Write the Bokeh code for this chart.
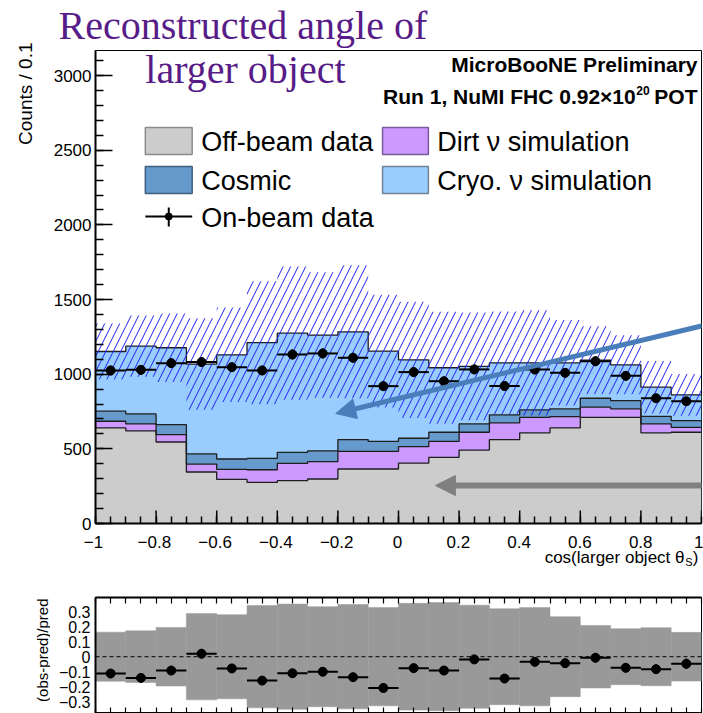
import numpy as np
from bokeh.plotting import figure
from bokeh.layouts import column, row
from bokeh.models import (Range1d, FixedTicker, CustomJSTickFormatter, LinearAxis,
                          Arrow, NormalHead, Span)
from bokeh.core.properties import value
from bokeh.embed import file_html
from bokeh.resources import INLINE

# ---------------- data ----------------
bin_edges = [-1.0, -0.9, -0.8, -0.7, -0.6, -0.5, -0.4, -0.3, -0.2, -0.1, 0.0,
             0.1, 0.2, 0.3, 0.4, 0.5, 0.6, 0.7, 0.8, 0.9, 1.0]
offbeam = [640, 620, 546, 345, 295, 275, 287, 298, 365, 365,
           405, 443, 492, 562, 607, 640, 711, 711, 607, 611]
dirt = [45, 47, 49, 53, 67, 85, 116, 116, 118, 118,
        110, 107, 119, 112, 104, 76, 68, 57, 60, 33]
cosmic = [67, 67, 67, 68, 70, 76, 74, 72, 79, 67,
          56, 61, 56, 53, 50, 52, 60, 55, 51, 45]
cryo = [400, 454, 515, 602, 698, 775, 798, 776, 722, 605,
        525, 432, 385, 349, 315, 308, 255, 240, 195, 173]
onbeam = [1025, 1029, 1074, 1081, 1047, 1025, 1132, 1139, 1110, 920,
          1014, 953, 1032, 921, 1031, 1009, 1087, 989, 839, 819]
syst_frac = [0.163, 0.172, 0.195, 0.287, 0.28, 0.34, 0.35, 0.333, 0.347, 0.327,
             0.355, 0.36, 0.343, 0.319, 0.327, 0.266, 0.208, 0.186, 0.193, 0.162]
ratio = [-0.112, -0.141, -0.092, 0.02, -0.078, -0.159, -0.11, -0.10, -0.136, -0.208,
         -0.076, -0.092, -0.018, -0.145, -0.034, -0.043, -0.007, -0.074, -0.083, -0.047]

x_major = [-1.0, -0.8, -0.6, -0.4, -0.2, 0.0, 0.2, 0.4, 0.6, 0.8, 1.0]
x_tick_labels = ["\u22121", "\u22120.8", "\u22120.6", "\u22120.4", "\u22120.2", "0",
                 "0.2", "0.4", "0.6", "0.8", "1"]
y_major = [0, 500, 1000, 1500, 2000, 2500, 3000]
r_major = [-0.3, -0.2, -0.1, 0.0, 0.1, 0.2, 0.3]

# ---------------- style / geometry ----------------
GRAY = "#cccccc"
PURPLE_FILL = "#cc99ff"
COSMIC = "#6699cc"
CRYO = "#99ccff"
HATCH = "#1f1ff0"
TITLE_PURPLE = "#571c88"
SANS = "Liberation Sans"
SERIF = "Liberation Serif"

W, HTOT = 703, 713
LW = 50                       # left strip width (rotated axis titles)
HH = 48                       # header height
FL, FR, FT, FB = 93, 701, 50, 523
MAIN_BOTTOM = 532             # page y where main panel figure ends
RATIO_TOP_PAGE = 570          # page y where the ratio figure starts
H1 = MAIN_BOTTOM - HH
HX = RATIO_TOP_PAGE - MAIN_BOTTOM
H2 = HTOT - RATIO_TOP_PAGE
Y_MAX = 3168
R_TOP, R_BOT, R_ZERO, R_PX = 597, 712, 655.7, 149.0
R_HI = (R_ZERO - R_TOP) / R_PX
R_LO = -(R_BOT - R_ZERO) / R_PX


def dx(px):
    return -1 + (px - FL) / (FR - FL) * 2


def px_x(x):
    return FL + (x + 1) / 2 * (FR - FL)


def dy(py):
    return Y_MAX * (FB - py) / (FB - FT)


edges = np.array(bin_edges)
left, right = edges[:-1], edges[1:]
centers = 0.5 * (left + right)
t0 = np.array(offbeam, float)
t1 = t0 + np.array(dirt)
t2 = t1 + np.array(cosmic)
t3 = t2 + np.array(cryo)
data = np.array(onbeam, float)
frac = np.array(syst_frac)
rat = np.array(ratio)

x_minor = list(np.round(np.arange(-1.0, 1.0001, 0.05), 3))
y_minor = list(range(0, 3200, 100))

fmt = CustomJSTickFormatter(code="""
const v = Math.round(tick*100)/100;
const s = Math.abs(v).toString();
return (v < 0 ? "\u2212" : "") + s;
""")


def strip(width, height, x0, x1, ytop, ybot):
    """A bare figure whose data coordinates are page pixels."""
    s = figure(width=width, height=height, x_range=Range1d(x0, x1), y_range=Range1d(ybot, ytop),
               output_backend="svg", toolbar_location=None, title=None,
               x_axis_location=None, y_axis_location=None,
               min_border=0, min_border_left=0, min_border_right=0,
               min_border_top=0, min_border_bottom=0)
    s.grid.visible = False
    s.outline_line_color = None
    return s


def txt(fig, x, y, text, size, font=SANS, color="black", align="left", angle=0.0, style="normal"):
    fig.text(x=[x], y=[y], text=[text], text_font=value(font), text_font_size=size,
             text_color=color, text_align=align, text_baseline="middle", angle=angle,
             text_font_style=style)


# ---------------- main panel ----------------
p = figure(width=W - LW, height=H1, x_range=Range1d(-1, 1), y_range=Range1d(0, Y_MAX),
           output_backend="svg", toolbar_location=None, title=None,
           min_border_left=FL - LW, min_border_right=W - FR, min_border_top=FT - HH,
           min_border_bottom=MAIN_BOTTOM - FB)
p.grid.visible = False
p.outline_line_color = "black"
p.outline_line_width = 1

xa = p.xaxis[0]
xa.ticker = FixedTicker(ticks=[], minor_ticks=x_minor)
xa.minor_tick_in, xa.minor_tick_out = 7, 0
xa.major_tick_in, xa.major_tick_out = 0, 0
xa.axis_line_width = 2
xa.minor_tick_line_width = 1.5
xa.major_label_standoff = 0

ya = p.yaxis[0]
ya.ticker = FixedTicker(ticks=y_major, minor_ticks=y_minor)
ya.major_tick_in, ya.major_tick_out = 17, 0
ya.minor_tick_in, ya.minor_tick_out = 8, 0
ya.axis_line_width = 2
ya.major_tick_line_width = 1.5
ya.minor_tick_line_width = 1.5
ya.major_label_text_font = SANS
ya.major_label_text_font_size = "17px"
ya.major_label_text_color = "black"
ya.major_label_standoff = 4

ext = lambda a: list(a) + [a[-1]]
zeros = np.zeros(len(t0))
for lo, hi, col in [(zeros, t0, GRAY), (t0, t1, PURPLE_FILL), (t1, t2, COSMIC), (t2, t3, CRYO)]:
    p.varea_step(x=list(edges), y1=ext(lo), y2=ext(hi), step_mode="after", fill_color=col)

for top in (t0, t1, t2, t3):
    p.step(x=list(edges), y=ext(top), mode="after", line_color="#1e1e1e", line_width=1.3)

p.quad(left=left, right=right, bottom=t3 * (1 - frac), top=t3 * (1 + frac),
       fill_color=None, line_color=None, hatch_pattern="/", hatch_color=HATCH,
       hatch_scale=15, hatch_weight=1.0)

err = np.sqrt(data)
p.segment(x0=left, x1=right, y0=data, y1=data, line_color="black", line_width=2)
p.segment(x0=centers, x1=centers, y0=data - err, y1=data + err, line_color="black", line_width=2)
p.scatter(centers, data, size=9, fill_color="black", line_color="black")

# major x ticks (13 px, pointing into the frame)
p.segment(x0=x_major, x1=x_major, y0=[0] * len(x_major), y1=[dy(FB - 13)] * len(x_major),
          line_color="black", line_width=1.5)

p.add_layout(Arrow(x_start=dx(703), y_start=dy(325), x_end=dx(334), y_end=dy(413),
                   line_color="#4a7ebb", line_width=5,
                   end=NormalHead(size=20, fill_color="#4a7ebb", line_color="#4a7ebb")))
p.add_layout(Arrow(x_start=dx(703), y_start=dy(485), x_end=dx(434), y_end=dy(485),
                   line_color="#808080", line_width=6,
                   end=NormalHead(size=20, fill_color="#808080", line_color="#808080")))

# legend (hand drawn)
leg_boxes = [(143, 190, 127, 154, GRAY, "#8c8c8c", "Off-beam data"),
             (381, 427, 127, 154, PURPLE_FILL, "#7a5a9a", "Dirt \u03bd simulation"),
             (143, 190, 166, 193, COSMIC, "#3f5f7f", "Cosmic"),
             (381, 427, 166, 193, CRYO, "#6f8396", "Cryo. \u03bd simulation")]
for x0, x1, y0, y1, fc, lc, lab in leg_boxes:
    p.quad(left=[dx(x0)], right=[dx(x1)], top=[dy(y0)], bottom=[dy(y1)],
           fill_color=fc, line_color=lc, line_width=1.5)
    txt(p, dx(x1 + 9), dy((y0 + y1) / 2 + 1), lab, "27px")
p.segment(x0=[dx(143)], x1=[dx(190)], y0=[dy(216)], y1=[dy(216)], line_color="black", line_width=2)
p.segment(x0=[dx(166.5)], x1=[dx(166.5)], y0=[dy(207)], y1=[dy(226)], line_color="black", line_width=2)
p.scatter([dx(166.5)], [dy(216)], size=7, fill_color="black", line_color="black")
txt(p, dx(199), dy(217), "On-beam data", "27px")

# in-frame texts
txt(p, dx(143), dy(69), "larger object", "40px", font=SERIF, color=TITLE_PURPLE)
txt(p, dx(697), dy(64), "MicroBooNE Preliminary", "21px", align="right", style="bold")
txt(p, dx(697), dy(96), "POT", "21px", align="right", style="bold")
txt(p, dx(649), dy(90), "20", "12px", align="right", style="bold")
txt(p, dx(635), dy(96), "Run 1, NuMI FHC 0.92\u00d710", "21px", align="right", style="bold")

# ---------------- header / strips (page-pixel coordinates) ----------------
hdr = strip(W - LW, HH, LW, W, 0, HH)
txt(hdr, 58, 25, "Reconstructed angle of", "40px", font=SERIF, color=TITLE_PURPLE)

xs = strip(W - LW, HX, LW, W, MAIN_BOTTOM, MAIN_BOTTOM + HX)
for xv, lab in zip(x_major[:-1], x_tick_labels[:-1]):
    txt(xs, px_x(xv), 541, lab, "17px", align="center")
txt(xs, W, 541, x_tick_labels[-1], "17px", align="right")
txt(xs, 698, 557, ")", "17px", align="right")
txt(xs, 692, 561, "S", "11px", align="right")
txt(xs, 684, 557, "cos(larger object \u03b8", "17px", align="right")

ls = strip(LW, HTOT, 0, LW, 0, HTOT)
txt(ls, 25, 42, "Counts / 0.1", "19px", align="right", angle=np.pi / 2)
txt(ls, 42, 598, "(obs-pred)/pred", "15px", align="right", angle=np.pi / 2)

# ---------------- ratio panel ----------------
r = figure(width=W - LW, height=H2, x_range=p.x_range, y_range=Range1d(R_LO, R_HI),
           output_backend="svg", toolbar_location=None, title=None,
           x_axis_location=None,
           min_border_left=FL - LW, min_border_right=W - FR,
           min_border_top=R_TOP - RATIO_TOP_PAGE, min_border_bottom=0)
r.grid.visible = False
r.outline_line_color = "black"
r.outline_line_width = 1

ry = r.yaxis[0]
ry.ticker = FixedTicker(ticks=r_major)
ry.formatter = fmt
ry.major_tick_in, ry.major_tick_out = 0, 0
ry.minor_tick_in, ry.minor_tick_out = 0, 0
ry.axis_line_width = 2
ry.major_label_text_font = SANS
ry.major_label_text_font_size = "16px"
ry.major_label_text_color = "black"
ry.major_label_standoff = 5

for loc in ("above", "below"):
    ax = LinearAxis(ticker=FixedTicker(ticks=[], minor_ticks=x_minor),
                    major_tick_in=0, major_tick_out=0, minor_tick_in=6, minor_tick_out=0,
                    axis_line_width=2, minor_tick_line_width=1.2, major_label_standoff=0)
    r.add_layout(ax, loc)

r.quad(left=left, right=right, bottom=-frac, top=frac, fill_color="#999999", line_color="#999999",
       line_width=0.5)
r.add_layout(Span(location=0, dimension="width", line_color="black", line_width=1, line_dash="4 3"))
rerr = err / t3
r.segment(x0=left, x1=right, y0=rat, y1=rat, line_color="black", line_width=2)
r.segment(x0=centers, x1=centers, y0=rat - rerr, y1=rat + rerr, line_color="black", line_width=2)
r.scatter(centers, rat, size=9, fill_color="black", line_color="black")

right_col = column(row(hdr, spacing=0), p, row(xs, spacing=0), r, spacing=0)
layout = row(ls, right_col, spacing=0)
open("out.html", "w").write(file_html(layout, INLINE))
